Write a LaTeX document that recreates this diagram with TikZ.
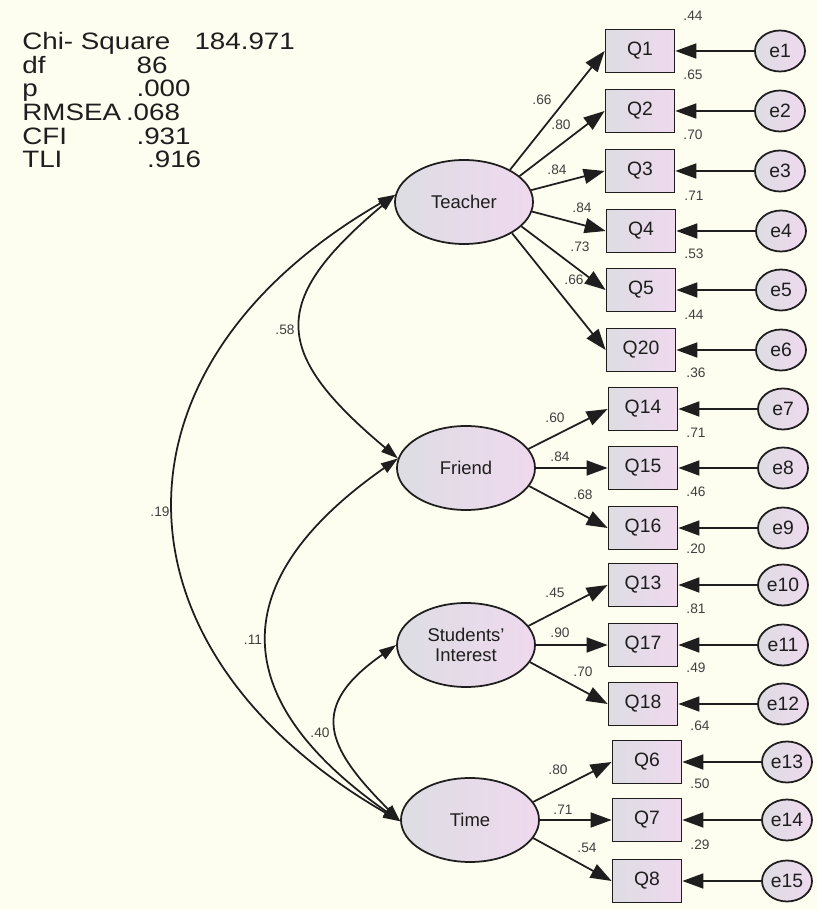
\documentclass[tikz,border=0pt]{standalone}
\usepackage{fontspec}
\setmainfont{Liberation Sans}
\newfontfamily\fitfont[FakeStretch=1.17]{Liberation Sans}
\usetikzlibrary{arrows.meta,positioning,shapes.geometric}
\definecolor{paper}{HTML}{FEFEF0}
\definecolor{shadeL}{HTML}{DDDDE3}
\definecolor{shadeR}{HTML}{EFD9EE}
\definecolor{ink}{HTML}{1E1E1E}
\definecolor{numgrey}{HTML}{404040}
\tikzset{
	latent/.style={ellipse, draw=ink, line width=1pt, left color=shadeL, right color=shadeR,
		minimum width=27.6mm, minimum height=16.8mm, inner sep=0pt, align=center,
		font=\fontsize{10.5}{11.5}\selectfont, text=ink},
	obs/.style={rectangle, draw=ink, line width=1pt, left color=shadeL, right color=shadeR,
		minimum width=13.8mm, minimum height=8.6mm, inner sep=0pt,
		font=\fontsize{11}{12}\selectfont, text=ink},
	err/.style={ellipse, draw=ink, line width=1pt, left color=shadeL, right color=shadeR,
		minimum width=10mm, minimum height=8.2mm, inner sep=0pt,
		font=\fontsize{11}{12}\selectfont, text=ink},
	lbl/.style={inner sep=0pt, font=\fontsize{7.8}{9}\selectfont, text=numgrey},
	loading/.style={draw=ink, line width=1pt, -{Triangle[length=4.2mm,width=3mm]}},
	covar/.style={draw=ink, line width=1pt,
		{Triangle[length=3.4mm,width=2.2mm]}-{Triangle[length=3.4mm,width=2.2mm]}}
}
\begin{document}
\begin{tikzpicture}[x=0.2mm,y=0.2mm]
	\fill[paper] (0,0) rectangle (817,910);
	\useasboundingbox (0,0) rectangle (817,910);

	% fit indices
	\node[anchor=north west, inner sep=0pt, text=ink] (fit) at (22,878.4) {%
		\fitfont\fontsize{13.5}{13.3}\selectfont
		\begin{tabular}{@{}l@{}}
			\makebox[98pt][l]{Chi- Square}184.971\\
			\makebox[65pt][l]{df}86\\
			\makebox[65pt][l]{p}.000\\
			\makebox[59pt][l]{RMSEA}.068\\
			\makebox[65pt][l]{CFI}.931\\
			\makebox[71pt][l]{TLI}.916
		\end{tabular}};

	% latent factors
	\node[latent] (teacher) at (464,708) {Teacher};
	\node[latent] (friend) at (466,442) {Friend};
	\node[latent] (interest) at (466,265) {Students'\\Interest};
	\node[latent] (time) at (470,90) {Time};

	% items, R^2 and errors
	\foreach \k/\e/\x/\y/\r in {1/1/640/859/.44, 2/2/640/799/.65, 3/3/640/739/.70,
		4/4/641/679/.71, 5/5/641/620/.53, 20/6/641/560/.44, 14/7/643/501/.36,
		15/8/643/442/.71, 16/9/643/382/.46, 13/10/643/325/.20, 17/11/643/265/.81,
		18/12/643/206/.49, 6/13/647/148/.64, 7/14/647/90/.50, 8/15/647/29/.29}{
		\node[obs] (q\k) at (\x,\y) {Q\k};
		\node[lbl, above right=1.65mm and 1.55mm of q\k.north east] (r\k) {\r};
		\node[err] (e\e) at (\x+140,\y) {e\e};
		\draw[loading] (e\e) -- (q\k);
	}

	% loadings
	\foreach \lv/\a/\k in {teacher/35/1, teacher/25/2, teacher/10/3, teacher/-8/4,
		teacher/-23/5, teacher/-33/20, friend/17/14, friend/0/15, friend/-16/16,
		interest/17/13, interest/0/17, interest/-15/18, time/16/6, time/0/7, time/-16/8}
		\draw[loading] (\lv.\a) -- (q\k.west);
	\foreach \x/\y/\t [count=\i] in {542/810/.66, 561/785/.80, 557/740/.84,
		582/702/.84, 580/663/.73, 574/630/.66, 555/492/.60, 560/453/.84, 583/415/.68,
		555/317/.45, 560/277/.90, 583/238/.70, 558/140/.80, 563/100/.71, 587/62/.54}
		\node[lbl] (w\i) at (\x,\y) {\t};

	% covariances
	\draw[covar] (teacher.174) to[out=220,in=140,looseness=1.6] (friend.172);
	\draw[covar] (teacher.174) to[out=210,in=150,looseness=1.4] (time.181);
	\draw[covar] (friend.172) to[out=215,in=145,looseness=1.5] (time.181);
	\draw[covar] (interest.west) to[out=215,in=135,looseness=1.55] (time.181);
	\node[lbl] (c1) at (285,580) {.58};
	\node[lbl] (c2) at (160,398) {.19};
	\node[lbl] (c3) at (253,270) {.11};
	\node[lbl] (c4) at (320,177) {.40};
\end{tikzpicture}
\end{document}
